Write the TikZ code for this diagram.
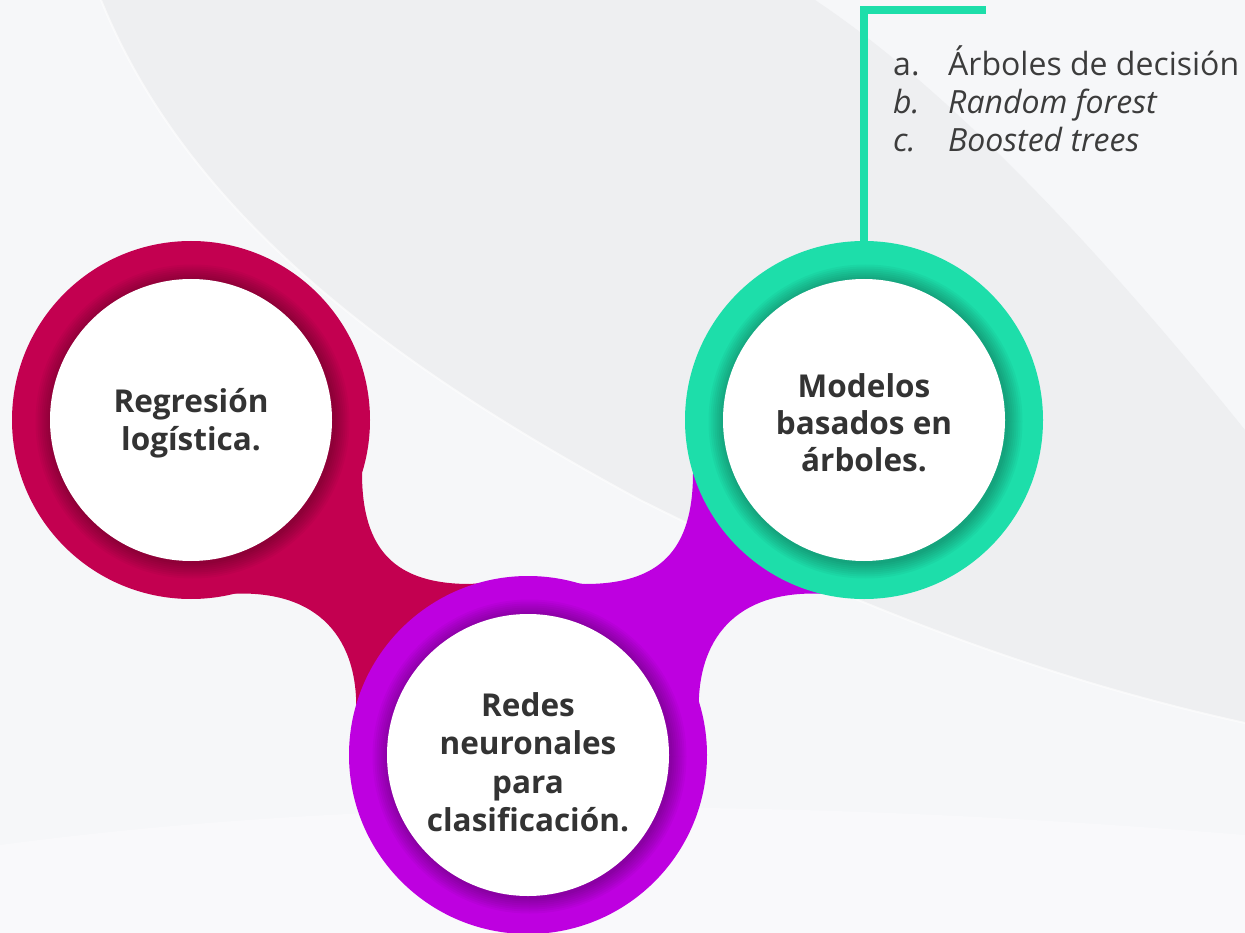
\documentclass[tikz,border=0pt]{standalone}
\usepackage{fontspec}
\setmainfont{Open Sans}
\definecolor{crim}{HTML}{C30050}
\definecolor{purp}{HTML}{BE00E0}
\definecolor{tealc}{HTML}{1DDEAA}
\definecolor{bgl}{HTML}{F6F7F9}
\definecolor{bgd}{HTML}{EEEFF1}
\definecolor{bgw}{HTML}{F9F9FB}
\definecolor{txt}{HTML}{333333}
\definecolor{ltxt}{HTML}{3C3C3C}
\begin{document}
\begin{tikzpicture}[x=1pt,y=-1pt,
  ring/.style={circle, inner sep=0pt, minimum size=358pt},
  lbl/.style={font=\bfseries\fontsize{31.5}{38}\selectfont, text=txt, anchor=base, inner sep=0pt},
  item/.style={font=\fontsize{32}{38}\selectfont, text=ltxt, anchor=base west, inner sep=0pt},
  itemit/.style={item, font=\itshape\fontsize{32}{38}\selectfont},
  leader/.style={draw=tealc, line width=8pt, line cap=butt, line join=miter}]
\useasboundingbox (0,0) rectangle (1245,933);
% background
\fill[bgl] (0,0) rectangle (1245,933);
\fill[bgd] (101,0) .. controls (190,220) and (400,370) .. (640,500)
  .. controls (860,610) and (1050,680) .. (1245,723) -- (1245,430)
  .. controls (1100,250) and (950,90) .. (815,0) -- cycle;
\draw[white, line width=2pt, opacity=0.6] (101,0) .. controls (190,220) and (400,370) .. (640,500)
  .. controls (860,610) and (1050,680) .. (1245,723);
\fill[bgw] (0,845) .. controls (300,805) and (700,790) .. (1245,835) -- (1245,933) -- (0,933) -- cycle;

% connectors
\fill[crim] (362,473) .. controls (362,550) and (395,584) .. (470,584) -- (495,582)
  -- (528,755) -- (356,717) .. controls (360,640) and (320,588) .. (228,594) -- (191,420) -- cycle;
\node[ring, fill=crim] (reg) at (191,420) {};
\fill[purp] (693,473) .. controls (693,550) and (660,584) .. (585,584) -- (560,582)
  -- (528,755) -- (699,717) .. controls (695,640) and (735,588) .. (827,594) -- (864,420) -- cycle;
\node[ring, fill=purp] (red) at (528,755) {};
\node[ring, fill=tealc] (mod) at (864,420) {};

% inner shadows and white discs
\foreach \c in {reg,red,mod}{
  \foreach \k in {2,4,...,16}{
    \fill[black, opacity=0.037] ([shift={(1.5,1.5)}]\c.center) circle (141+\k);
  }
  \fill[white] (\c.center) circle (141);
}

% labels
\node[lbl] (reg1) at (191,412) {Regresión};
\node[lbl] (reg2) at (191,450) {logística.};
\node[lbl] (mod1) at (864,397) {Modelos};
\node[lbl] (mod2) at (864,434) {basados en};
\node[lbl] (mod3) at (864,471) {árboles.};
\node[lbl] (red1) at (528,716) {Redes};
\node[lbl] (red2) at (528,754) {neuronales};
\node[lbl] (red3) at (528,793) {para};
\node[lbl] (red4) at (528,831) {clasificación.};

% leader line
\coordinate (lc) at (864,10);
\coordinate (le) at (986,10);
\draw[leader] (mod.north) -- (lc) -- (le);

% list
\node[item] (ia) at (893,76) {a.};
\node[item] (ta) at (948,76) {Árboles de decisión};
\node[itemit] (ib) at (893,114) {b.};
\node[itemit] (tb) at (948,114) {Random forest};
\node[itemit] (ic) at (893,152) {c.};
\node[itemit] (tc) at (948,152) {Boosted trees};
\end{tikzpicture}
\end{document}
